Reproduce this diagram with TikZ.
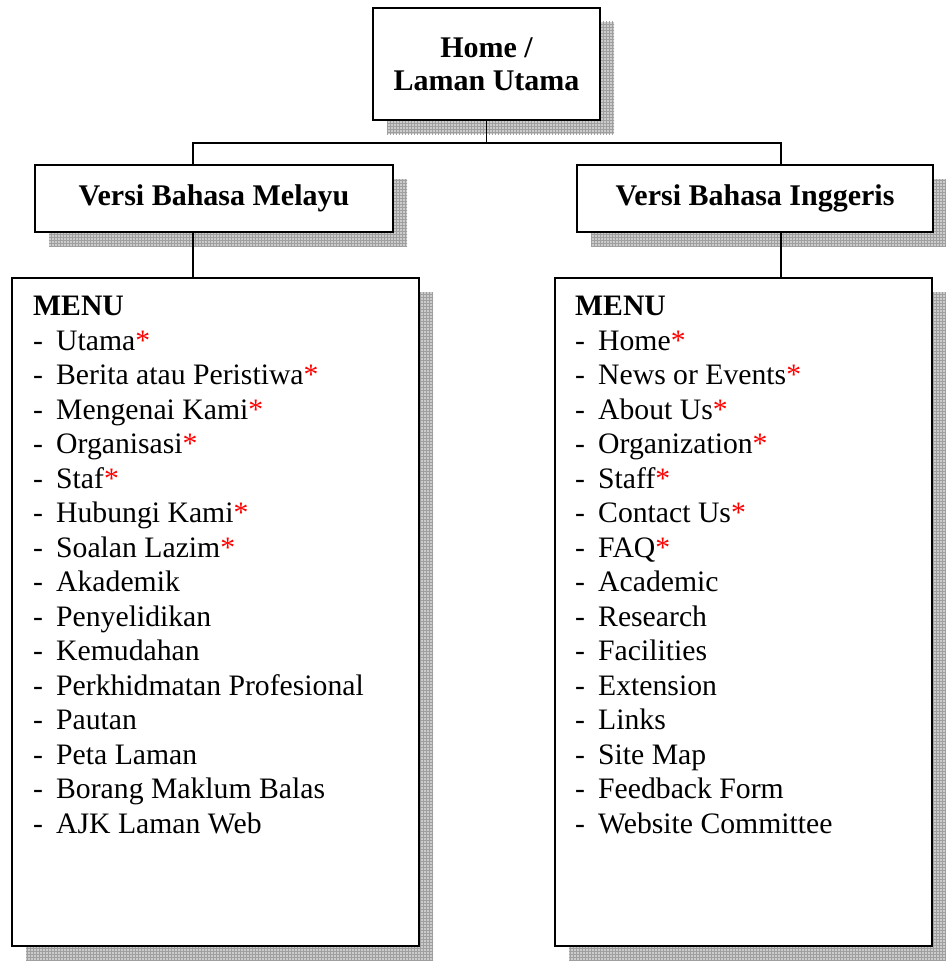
\documentclass[tikz,border=0pt]{standalone}
\usepackage{fontspec}
\setmainfont{Liberation Serif}
\usepackage{xcolor}
\usetikzlibrary{shadows,patterns}

\newcommand{\redstar}{\textcolor{red}{*}}
\newcommand{\mitem}[1]{\makebox[23pt][l]{-}#1}

\begin{document}
\begin{tikzpicture}[x=1pt,y=-1pt,
  box/.style={draw,line width=1.3pt,fill=white,inner sep=0pt,
    general shadow={shadow xshift=14pt,shadow yshift=-14pt,fill=gray!40,
      postaction={pattern=grid,pattern color=gray!75}}},
  title/.style={font=\fontsize{30}{33}\selectfont\bfseries,align=center},
  list/.style={font=\fontsize{29.7}{34.5}\selectfont,align=left,inner sep=0pt,anchor=north west}]
				\useasboundingbox (0,0) rectangle (945,963);
				% boxes
				\node[box,title,minimum width=227,minimum height=112] (home) at (486.5,64) {Home /\\Laman Utama};
				\node[box,title,minimum width=358,minimum height=67] (melayu) at (214,198.5) {Versi Bahasa Melayu};
				\node[box,title,minimum width=356,minimum height=67] (inggeris) at (755,198.5) {Versi Bahasa Inggeris};
				\node[box,minimum width=407,minimum height=668] (menuBM) at (215.5,612) {};
				\node[box,minimum width=377,minimum height=668] (menuBI) at (743.5,612) {};
				% menu lists
				\node[list] (listBM) at (33,296) {\textbf{MENU}\\
					\mitem{Utama\redstar}\\
					\mitem{Berita atau Peristiwa\redstar}\\
					\mitem{Mengenai Kami\redstar}\\
					\mitem{Organisasi\redstar}\\
					\mitem{Staf\redstar}\\
					\mitem{Hubungi Kami\redstar}\\
					\mitem{Soalan Lazim\redstar}\\
					\mitem{Akademik}\\
					\mitem{Penyelidikan}\\
					\mitem{Kemudahan}\\
					\mitem{Perkhidmatan Profesional}\\
					\mitem{Pautan}\\
					\mitem{Peta Laman}\\
					\mitem{Borang Maklum Balas}\\
					\mitem{AJK Laman Web}};
				\node[list] (listBI) at (575,296) {\textbf{MENU}\\
					\mitem{Home\redstar}\\
					\mitem{News or Events\redstar}\\
					\mitem{About Us\redstar}\\
					\mitem{Organization\redstar}\\
					\mitem{Staff\redstar}\\
					\mitem{Contact Us\redstar}\\
					\mitem{FAQ\redstar}\\
					\mitem{Academic}\\
					\mitem{Research}\\
					\mitem{Facilities}\\
					\mitem{Extension}\\
					\mitem{Links}\\
					\mitem{Site Map}\\
					\mitem{Feedback Form}\\
					\mitem{Website Committee}};
				% connectors
				\coordinate (jl) at (193,143);
				\coordinate (jr) at (781,143);
				\draw[line width=1.2pt] (home.south) |- (jl) -- (jl |- melayu.north);
				\draw[line width=1.2pt] (home.south) |- (jr) -- (jr |- inggeris.north);
				\draw[line width=1.2pt] (jl |- melayu.south) -- (jl |- menuBM.north);
				\draw[line width=1.2pt] (jr |- inggeris.south) -- (jr |- menuBI.north);
\end{tikzpicture}
\end{document}
